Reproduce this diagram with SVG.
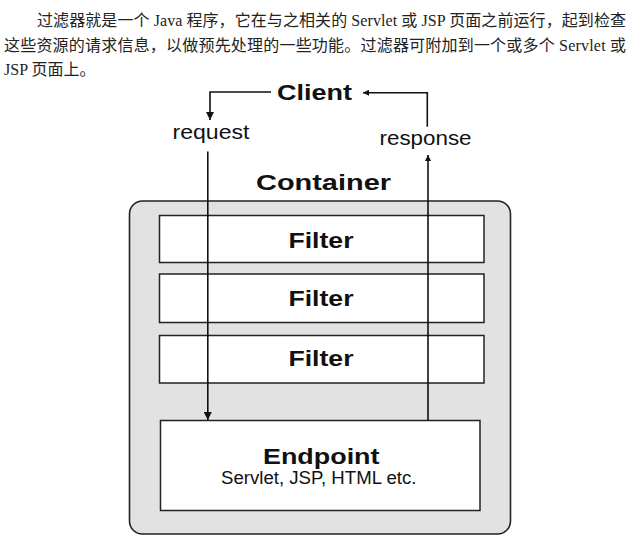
<svg xmlns="http://www.w3.org/2000/svg" width="634" height="543" viewBox="0 0 634 543">
<defs>
<style>
.para{font-family:"Liberation Serif","Noto Sans CJK SC",serif;font-size:16px;fill:#222;}
.bold{font-family:"Liberation Sans",Arial,sans-serif;font-weight:bold;font-size:22px;fill:#111;}
.reg{font-family:"Liberation Sans",Arial,sans-serif;font-size:20px;fill:#111;}
.box{fill:#fff;stroke:#222;stroke-width:1.5;}
.line{fill:none;stroke:#111;stroke-width:1.6;}
</style>
<marker id="ah" viewBox="0 0 10 10" refX="10" refY="5" markerWidth="8" markerHeight="8" markerUnits="userSpaceOnUse" orient="auto">
<path d="M0,0 L10,5 L0,10 z" fill="#111"/>
</marker>
<marker id="ahs" viewBox="0 0 10 10" refX="10" refY="5" markerWidth="7" markerHeight="6" markerUnits="userSpaceOnUse" orient="auto">
<path d="M0,0 L10,5 L0,10 z" fill="#111"/>
</marker>
</defs>
<rect width="634" height="543" fill="#fff"/>
<g id="paragraph">
<text class="para" x="37" y="25.5" textLength="589" lengthAdjust="spacing">过滤器就是一个 Java 程序，它在与之相关的 Servlet 或 JSP 页面之前运行，起到检查</text>
<text class="para" x="4" y="51" textLength="622" lengthAdjust="spacing">这些资源的请求信息，以做预先处理的一些功能。过滤器可附加到一个或多个 Servlet 或</text>
<text class="para" x="4" y="75">JSP 页面上。</text>
</g>
<g id="client">
<text class="bold" x="277" y="100" textLength="75" lengthAdjust="spacingAndGlyphs">Client</text>
</g>
<g id="container">
<rect x="129.5" y="201" width="381" height="333" rx="13" fill="#e2e2e2" stroke="#222" stroke-width="1.6"/>
<text class="bold" x="256" y="190" textLength="135" lengthAdjust="spacingAndGlyphs">Container</text>
</g>
<g id="filter1">
<rect class="box" x="159.5" y="215.5" width="324.5" height="47"/>
<text class="bold" x="288.5" y="247.5" textLength="65" lengthAdjust="spacingAndGlyphs">Filter</text>
</g>
<g id="filter2">
<rect class="box" x="159.5" y="274" width="324.5" height="48.5"/>
<text class="bold" x="288.5" y="306" textLength="65" lengthAdjust="spacingAndGlyphs">Filter</text>
</g>
<g id="filter3">
<rect class="box" x="159.5" y="335.5" width="324.5" height="47.5"/>
<text class="bold" x="288.5" y="366" textLength="65" lengthAdjust="spacingAndGlyphs">Filter</text>
</g>
<g id="endpoint">
<rect class="box" x="160.5" y="420.5" width="319.5" height="90"/>
<text class="bold" x="263" y="463.5" textLength="116.5" lengthAdjust="spacingAndGlyphs">Endpoint</text>
<text class="reg" x="221" y="484" style="font-size:18px" textLength="195.5" lengthAdjust="spacingAndGlyphs">Servlet, JSP, HTML etc.</text>
</g>
<g id="connectors">
<path class="line" d="M271,92 H210 V120" marker-end="url(#ah)"/>
<text class="reg" x="172.5" y="139.3" textLength="77" lengthAdjust="spacingAndGlyphs">request</text>
<path class="line" d="M207.8,151.5 V420" marker-end="url(#ah)"/>
<path class="line" d="M428,420.5 V155" marker-end="url(#ahs)"/>
<text class="reg" x="379.5" y="145" textLength="92" lengthAdjust="spacingAndGlyphs">response</text>
<path class="line" d="M427.3,126.7 V92.7 H363" marker-end="url(#ahs)"/>
</g>
</svg>
